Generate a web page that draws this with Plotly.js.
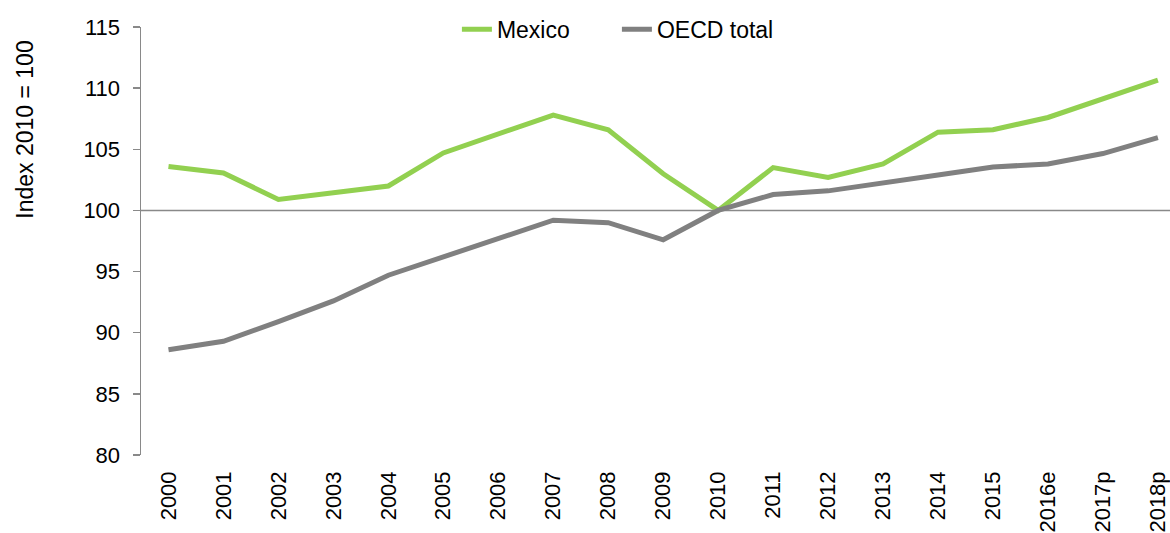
<!DOCTYPE html>
<html>
<head>
<meta charset="utf-8">
<script src="https://cdn.plot.ly/plotly-3.0.1.min.js"></script>
<style>
html,body{margin:0;padding:0;background:#fff;}
#chart{width:1170px;height:533px;}
</style>
</head>
<body>
<div id="chart"></div>
<script>
const years = ["2000","2001","2002","2003","2004","2005","2006","2007","2008","2009","2010","2011","2012","2013","2014","2015","2016e","2017p","2018p"];
const mexico = [103.6,103.06,100.9,101.4,102.0,104.7,106.3,107.8,106.6,103.0,100.0,103.5,102.7,103.8,106.4,106.6,107.6,109.1,110.65];
const oecd = [88.6,89.3,90.9,92.6,94.7,96.2,97.8,99.2,99.0,97.6,100.0,101.3,101.6,102.2,102.9,103.55,103.8,104.65,105.95];
const yTicks = [80,85,90,95,100,105,110,115];
const idx = years.map((_, i) => i);

const font = "Liberation Sans, Arial, sans-serif";

const traces = [
  {x: idx, y: mexico, name: "Mexico", type: "scatter", mode: "lines",
   line: {color: "#92D050", width: 5}},
  {x: idx, y: oecd, name: "OECD total", type: "scatter", mode: "lines",
   line: {color: "#808080", width: 5}}
];

const layout = {
  width: 1170, height: 533,
  margin: {l: 141, r: 0, t: 27, b: 78, pad: 0},
  paper_bgcolor: "#fff", plot_bgcolor: "#fff",
  font: {family: font, size: 22, color: "#000"},
  showlegend: true,
  legend: {orientation: "h", x: 0.307, xanchor: "left", y: 1.045, yanchor: "top",
           bgcolor: "rgba(0,0,0,0)", font: {family: font, size: 23, color: "#000"},
           traceorder: "normal", itemwidth: 30, entrywidth: 115, entrywidthmode: "pixels"},
  xaxis: {
    range: [-0.5, 18.22], tickmode: "array", tickvals: idx, ticktext: years,
    tickangle: -90, showgrid: false, zeroline: false, showline: false,
    ticks: "", ticklabelstandoff: 11, ticklabeloverflow: "allow", fixedrange: true,
    tickfont: {family: font, size: 22, color: "#000"}
  },
  yaxis: {
    range: [80, 115], tickmode: "array", tickvals: yTicks,
    showgrid: false, zeroline: false, showline: true, linecolor: "#898989", linewidth: 1.5,
    ticks: "outside", ticklen: 7, tickcolor: "#898989", tickwidth: 1.5,
    ticklabelstandoff: 8, fixedrange: true,
    tickfont: {family: font, size: 22, color: "#000"}
  },
  shapes: [
    {type: "line", xref: "paper", x0: 0, x1: 1, yref: "y", y0: 100, y1: 100,
     line: {color: "#898989", width: 1.5}, layer: "below"}
  ],
  annotations: [
    {text: "Index 2010 = 100", textangle: -90, xref: "paper", x: (25 - 141) / 1029,
     yref: "y", y: 106.6, showarrow: false, xanchor: "center", yanchor: "middle",
     font: {family: font, size: 23, color: "#000"}}
  ]
};

Plotly.newPlot("chart", traces, layout, {displayModeBar: false, staticPlot: true});
</script>
</body>
</html>
